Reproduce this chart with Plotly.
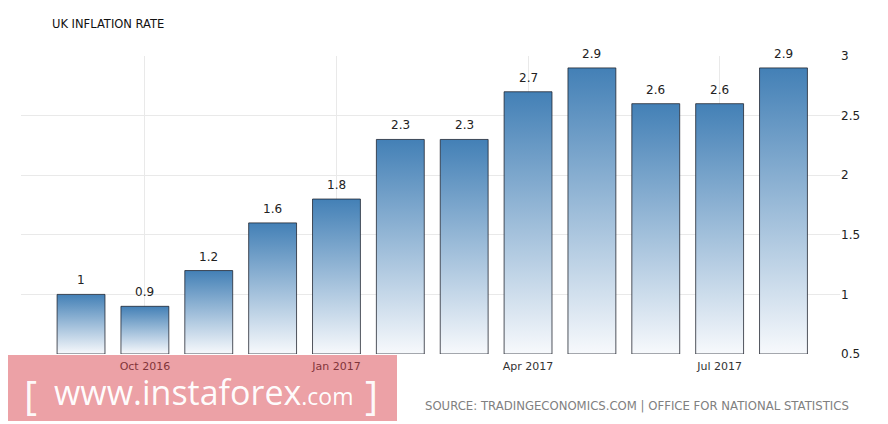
import plotly.graph_objects as go

months = ["Sep 2016", "Oct 2016", "Nov 2016", "Dec 2016", "Jan 2017", "Feb 2017",
          "Mar 2017", "Apr 2017", "May 2017", "Jun 2017", "Jul 2017", "Aug 2017"]
inflation = [1.0, 0.9, 1.2, 1.6, 1.8, 2.3, 2.3, 2.7, 2.9, 2.6, 2.6, 2.9]
x_tick_idx = [1, 4, 7, 10]
x_tick_text = ["Oct 2016", "Jan 2017", "Apr 2017", "Jul 2017"]
y_ticks = [0.5, 1, 1.5, 2, 2.5, 3]

Y_MIN, Y_MAX = 0.5, 3.0
BAR_W = 0.75

# the page body has an 8px default margin; compensate so the picture lines up
OFF = 8
W, H = 888 - OFF, 424 - OFF
PL, PR, PT, PB = 21, 840, 56, 354          # plot area in window pixels
ML, MR, MT, MB = PL - OFF, W - (PR - OFF), PT - OFF, H - (PB - OFF)
PW = PR - PL
PH = PB - PT


def px_x(p):
    return (p - PL) / PW


def px_y(p):
    return (PB - p) / PH


fig = go.Figure()
annotations = []

for i, v in enumerate(inflation):
    x0, x1 = i - BAR_W / 2, i + BAR_W / 2
    fig.add_trace(go.Scatter(
        x=[x0, x0, x1, x1, x0],
        y=[Y_MIN, v, v, Y_MIN, Y_MIN],
        mode="lines",
        fill="toself",
        fillgradient=dict(type="vertical",
                          colorscale=[[0, "#f7f9fc"], [1, "#4380b6"]]),
        line=dict(color="rgba(25,30,40,0.75)", width=1),
        hoverinfo="skip",
        showlegend=False,
    ))
    annotations.append(dict(x=i, y=v, xref="x", yref="y", text=f"{v:g}",
                            showarrow=False, yshift=14, yanchor="middle",
                            font=dict(family="DejaVu Sans", size=12, color="#222")))

fig.update_xaxes(range=[-0.94, len(inflation) - 1 + 0.885],
                 tickvals=x_tick_idx, ticktext=x_tick_text,
                 showgrid=True, gridcolor="#e9e9e9", gridwidth=1,
                 zeroline=False, showline=False, ticks="",
                 ticklabelstandoff=4,
                 tickfont=dict(family="DejaVu Sans", size=11, color="#333"))
fig.update_yaxes(range=[Y_MIN, Y_MAX], side="right", tickvals=y_ticks,
                 ticktext=[f"{t:g}" for t in y_ticks],
                 showgrid=True, gridcolor="#e9e9e9", gridwidth=1,
                 zeroline=False, showline=False, ticks="",
                 tickfont=dict(family="DejaVu Sans", size=12, color="#222"))

shapes = [
    dict(type="rect", xref="paper", yref="paper",
         x0=px_x(3), x1=px_x(397), y0=px_y(355), y1=px_y(421),
         fillcolor="rgba(215,55,65,0.47)", line=dict(width=0), layer="above"),
]

annotations += [
    dict(xref="paper", yref="paper", x=px_x(50), y=px_y(24), xanchor="left",
         yanchor="middle", showarrow=False, text="UK INFLATION RATE",
         font=dict(family="DejaVu Sans", size=11.5, color="#111")),
    dict(xref="paper", yref="paper", x=px_x(851), y=px_y(406), xanchor="right",
         yanchor="middle", showarrow=False,
         text="SOURCE: TRADINGECONOMICS.COM | OFFICE FOR NATIONAL STATISTICS",
         font=dict(family="DejaVu Sans", size=11.7, color="#808080")),
    dict(xref="paper", yref="paper", x=px_x(30), y=px_y(394), xanchor="center",
         yanchor="middle", showarrow=False, text="[",
         font=dict(family="Open Sans", size=40, color="rgba(255,255,255,0.95)")),
    dict(xref="paper", yref="paper", x=px_x(371), y=px_y(394), xanchor="center",
         yanchor="middle", showarrow=False, text="]",
         font=dict(family="Open Sans", size=40, color="rgba(255,255,255,0.95)")),
    dict(xref="paper", yref="paper", x=px_x(52), y=px_y(392), xanchor="left",
         yanchor="middle", showarrow=False,
         text="www.instaforex<span style='font-size:23px'>.com</span>",
         font=dict(family="Open Sans", size=34, color="rgba(255,255,255,0.97)")),
]

fig.update_layout(width=W, height=H,
                  margin=dict(l=ML, r=MR, t=MT, b=MB, pad=0),
                  paper_bgcolor="white", plot_bgcolor="white",
                  shapes=shapes, annotations=annotations,
                  showlegend=False, hovermode=False)

fig.write_html("out.html")
